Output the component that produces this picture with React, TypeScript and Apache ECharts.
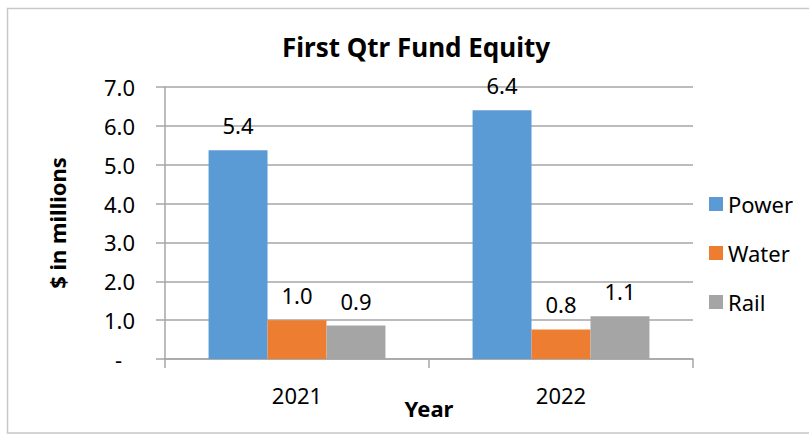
import React, { useEffect, useRef } from "react";
import * as echarts from "echarts";

const categories = ["2021", "2022"];
const powerValues = [5.37, 6.4];
const waterValues = [1.0, 0.76];
const railValues = [0.86, 1.1];
const yTicks = [0, 1, 2, 3, 4, 5, 6, 7];

const FONT = "Noto Sans";
const GRAY = "#a6a6a6";

export default function App() {
  const ref = useRef<HTMLDivElement>(null);
  useEffect(() => {
    if (!ref.current) return;
    const chart = echarts.init(ref.current, null, { renderer: "svg" });
    const label = {
      show: true,
      position: "top",
      distance: 14,
      color: "#000",
      fontFamily: FONT,
      fontSize: 22,
      formatter: (p: any) => Number(p.value).toFixed(1),
    };
    const mk = (name: string, data: number[], color: string) => ({
      name,
      type: "bar",
      data,
      barGap: "0%",
      barCategoryGap: "33%",
      itemStyle: { color },
      label,
    });
    chart.setOption({
      animation: false,
      backgroundColor: "#fff",
      textStyle: { fontFamily: FONT },
      title: {
        text: "First Qtr Fund Equity",
        left: 277,
        top: 29,
        textStyle: { fontFamily: FONT, fontSize: 26, fontWeight: "bold", color: "#000" },
      },
      legend: {
        orient: "vertical",
        left: 704,
        top: 188,
        itemWidth: 14,
        itemHeight: 14,
        itemGap: 27,
        itemTextGap: 7,
        icon: "rect",
        textStyle: { fontFamily: FONT, fontSize: 22, color: "#000" },
        data: ["Power", "Water", "Rail"],
      },
      grid: { left: 165, right: 116, top: 87, bottom: 76 },
      xAxis: {
        type: "category",
        data: categories,
        name: "Year",
        nameLocation: "middle",
        nameGap: 38,
        nameMoveOverlap: false,
        nameTextStyle: { fontFamily: FONT, fontSize: 22, fontWeight: "bold", color: "#000" },
        axisLine: { show: true, lineStyle: { color: GRAY, width: 1.5 } },
        axisTick: { show: true, length: 9, interval: 0, lineStyle: { color: GRAY, width: 1.5 } },
        axisLabel: { fontFamily: FONT, fontSize: 22, color: "#000", margin: 25 },
      },
      yAxis: {
        type: "value",
        min: yTicks[0],
        max: yTicks[yTicks.length - 1],
        interval: 1,
        name: "$ in millions",
        nameLocation: "middle",
        nameGap: 97,
        nameMoveOverlap: false,
        nameTextStyle: { fontFamily: FONT, fontSize: 22, fontWeight: "bold", color: "#000" },
        axisLine: { show: true, lineStyle: { color: GRAY, width: 1.5 } },
        axisTick: { show: true, length: 9, lineStyle: { color: GRAY, width: 1.5 } },
        splitLine: { show: true, lineStyle: { color: GRAY, width: 1.5 } },
        axisLabel: {
          fontFamily: FONT,
          fontSize: 22,
          color: "#000",
          margin: 30,
          formatter: (v: number) => (v === 0 ? "{d|-}" : v.toFixed(1)),
          rich: { d: { fontFamily: FONT, fontSize: 22, color: "#000", padding: [0, 13, 0, 0] } },
        },
      },
      series: [
        mk("Power", powerValues, "#5B9BD5"),
        mk("Water", waterValues, "#ED7D31"),
        mk("Rail", railValues, "#A5A5A5"),
      ],
      graphic: [
        {
          type: "rect",
          silent: true,
          z: -1,
          shape: { x: 7.5, y: 8.5, width: 820, height: 424.5 },
          style: { fill: "none", stroke: "#c8c8c8", lineWidth: 1.5 },
        },
      ],
    });
    return () => chart.dispose();
  }, []);
  return (
    <div
      ref={ref}
      style={{ position: "absolute", left: 0, top: 0, width: 809, height: 435 }}
    />
  );
}
